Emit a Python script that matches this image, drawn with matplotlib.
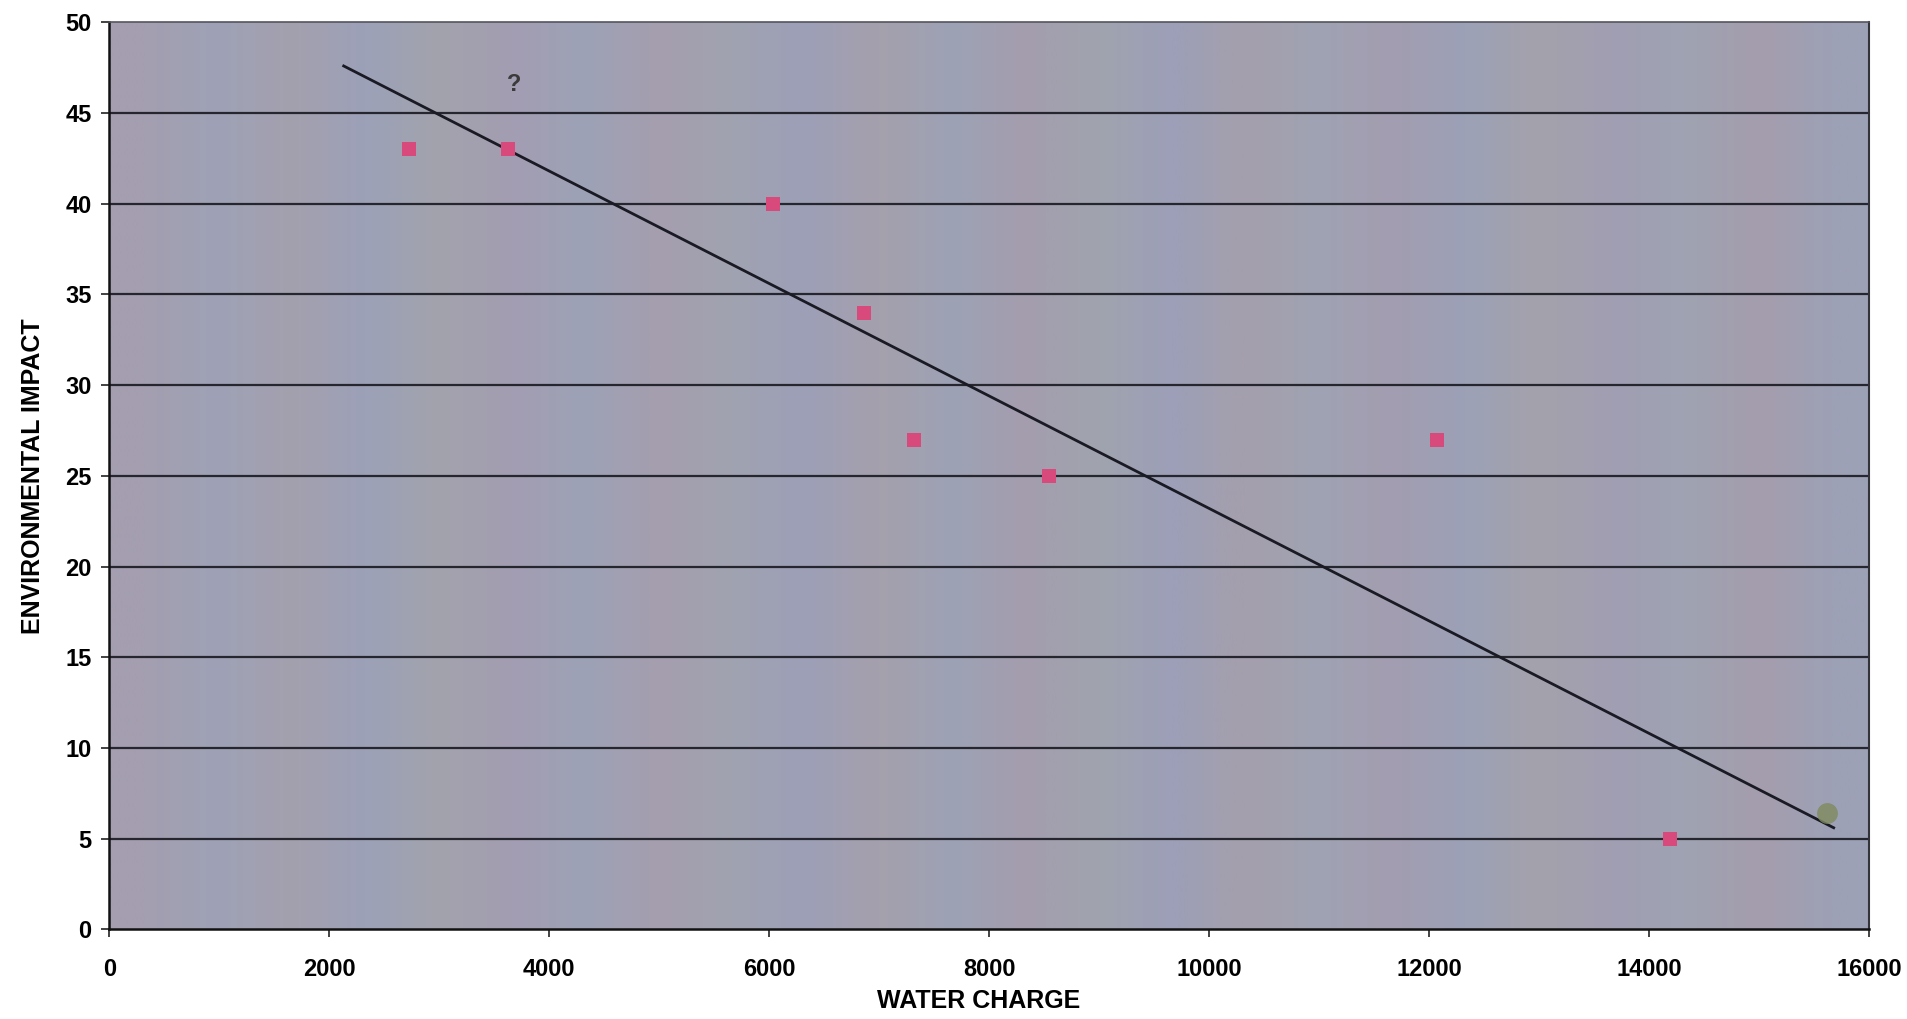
import matplotlib
matplotlib.use("Agg")
import matplotlib.pyplot as plt
import numpy as np

# Scatter points
water_charge = [2720, 3620, 6030, 6860, 7320, 8540, 12070, 14190]
env_impact = [43, 43, 40, 34, 27, 25, 27, 5]

# Trend line end points
trend_x = [2130, 15680]
trend_y = [47.6, 5.6]

# smudge at the end of the line (olive blob on the scan)
smudge_x = [15620]
smudge_y = [6.4]

x_ticks = [0, 2000, 4000, 6000, 8000, 10000, 12000, 14000, 16000]
y_ticks = [0, 5, 10, 15, 20, 25, 30, 35, 40, 45, 50]

# faint vertical stripes of the scanned background
band_colors = ["#a49eb0", "#9ea2b6", "#a4a0ae", "#9ca1b8", "#a2a3ac", "#a39db2",
               "#9da2b6", "#a59eae", "#a0a3b0", "#9d9fb8", "#a5a0ac", "#9da2b5",
               "#a49dae", "#a0a4ae", "#9c9fb8", "#a59fac", "#9fa3b3", "#a39db0",
               "#9ca1b7", "#a4a2ab", "#a19eb3", "#9ea3b2", "#a59dad", "#9da1b6"]

font = ["Liberation Sans", "DejaVu Sans"]

fig = plt.figure(figsize=(19.07, 10.19), dpi=100)
ax = fig.add_axes([0.0574, 0.088, 0.9226, 0.890])

rgb = np.array([matplotlib.colors.to_rgb(c) for c in band_colors])[None, :, :]
ax.imshow(rgb, extent=[0, 1, 0, 1], transform=ax.transAxes, aspect="auto",
          interpolation="bilinear", zorder=0)

for y in y_ticks[1:-1]:
    ax.axhline(y, color="#26262e", linewidth=1.6, zorder=1)

ax.plot(trend_x, trend_y, color="#1a1a24", linewidth=2.0, zorder=2)
ax.plot(water_charge, env_impact, linestyle="none", marker="s", markersize=10,
        color="#d84a7c", markeredgewidth=0, zorder=3)
ax.plot(smudge_x, smudge_y, linestyle="none", marker="o", markersize=15,
        color="#7f8a5c", alpha=0.8, markeredgewidth=0, zorder=2)

ax.text(3681, 46.6, "?", fontsize=17, fontweight="bold", color="#3a3a3a",
        ha="center", va="center", family=font)

ax.set_xlim(0, 16000)
ax.set_ylim(0, 50)
ax.set_xticks(x_ticks)
ax.set_yticks(y_ticks)
ax.set_xticklabels([str(v) for v in x_ticks], fontsize=17, fontweight="bold", family=font)
ax.set_yticklabels([str(v) for v in y_ticks], fontsize=17, fontweight="bold", family=font)
ax.tick_params(axis="both", direction="out", length=6, width=1.2, color="#222222")
ax.tick_params(axis="x", pad=15)
ax.tick_params(axis="y", pad=7)

ax.spines["left"].set_color("#111111")
ax.spines["bottom"].set_color("#111111")
ax.spines["left"].set_linewidth(1.8)
ax.spines["bottom"].set_linewidth(1.8)
ax.spines["top"].set_color("#55555f")
ax.spines["right"].set_color("#33333a")
ax.spines["top"].set_linewidth(1.2)
ax.spines["right"].set_linewidth(1.5)

ax.set_xlabel("WATER CHARGE", fontsize=18, fontweight="bold", family=font)
ax.xaxis.label.set_va("center")
ax.xaxis.set_label_coords(0.494, -0.0787)
ax.set_ylabel("ENVIRONMENTAL IMPACT", fontsize=18, fontweight="bold", family=font)
ax.yaxis.label.set_va("center")
ax.yaxis.set_label_coords(-0.0434, 0.5)

fig.savefig("out.png", dpi=100, facecolor="white")
